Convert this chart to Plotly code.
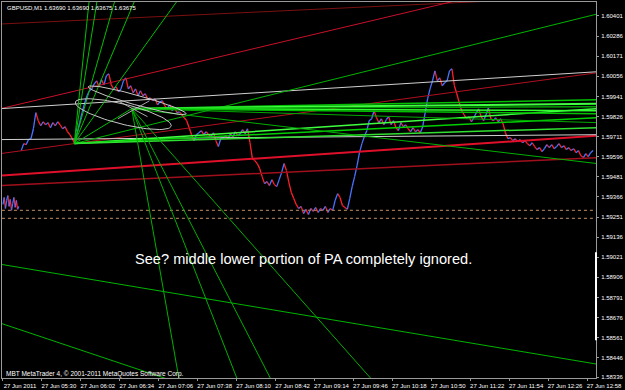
import numpy as np
import plotly.graph_objects as go

# ---------------- data ----------------
# time axis: minutes after 04:58 on 27 Jun 2011 (M1 chart)
TICK_MINUTES = [0, 32, 64, 96, 128, 160, 192, 224, 256, 288, 320, 352, 384, 416, 448, 480]
TICK_LABELS = ["27 Jun 2011", "27 Jun 05:30", "27 Jun 06:02", "27 Jun 06:34", "27 Jun 07:06",
               "27 Jun 07:38", "27 Jun 08:10", "27 Jun 08:42", "27 Jun 09:14", "27 Jun 09:46",
               "27 Jun 10:18", "27 Jun 10:50", "27 Jun 11:22", "27 Jun 11:54", "27 Jun 12:26",
               "27 Jun 12:58"]
PRICE_TICKS = ["1.60401", "1.60286", "1.60171", "1.60056", "1.59941", "1.59826", "1.59711",
               "1.59596", "1.59481", "1.59366", "1.59251", "1.59136", "1.59021", "1.58906",
               "1.58791", "1.58676", "1.58561", "1.58446", "1.58336"]

# first block of bars (minutes 0..13, 1-minute bars)
SEG1_PRICE = [1.59323, 1.59363, 1.59300, 1.59346, 1.59374, 1.59312, 1.59352,
              1.59289, 1.59329, 1.59363, 1.59306, 1.59346, 1.59295, 1.59312]
# main block: closes every 2 minutes from minute 15
SEG2_START, SEG2_STEP = 15, 2
SEG2_PRICE = [
    1.59631, 1.59671, 1.59665, 1.59694, 1.59699, 1.59756, 1.59848,
    1.59802, 1.59773, 1.59796, 1.59779, 1.59791, 1.59762, 1.59791, 1.59773, 1.59796, 1.59779,
    1.59756, 1.59768, 1.59739, 1.59722, 1.59699, 1.59671,
    1.59733, 1.59791, 1.59848, 1.59899, 1.59945, 1.59973, 1.59984, 1.60013, 1.60030, 1.59996,
    1.60036, 1.60007, 1.60059, 1.60070,
    1.60007, 1.59984, 1.59996, 1.59967, 1.59984, 1.60030, 1.60047, 1.59984, 1.60002, 1.59962,
    1.59984, 1.59945, 1.59973, 1.59945, 1.59956,
    1.59922, 1.59933, 1.59916, 1.59927, 1.59893, 1.59910, 1.59916, 1.59887, 1.59870, 1.59893,
    1.59859, 1.59876, 1.59848, 1.59853, 1.59836, 1.59819, 1.59802, 1.59762, 1.59722, 1.59688, 1.59722,
    1.59733, 1.59745, 1.59722, 1.59739, 1.59722, 1.59711, 1.59733, 1.59688, 1.59654, 1.59699,
    1.59705, 1.59716, 1.59699, 1.59728, 1.59711, 1.59739, 1.59716, 1.59728, 1.59751, 1.59728, 1.59756,
    1.59676, 1.59585, 1.59574, 1.59557, 1.59528, 1.59482, 1.59442, 1.59454, 1.59431, 1.59465,
    1.59437, 1.59425, 1.59465, 1.59505, 1.59557, 1.59517, 1.59448, 1.59391, 1.59357, 1.59323, 1.59300,
    1.59312, 1.59271, 1.59295, 1.59266, 1.59300, 1.59283, 1.59306, 1.59277, 1.59300, 1.59289,
    1.59312, 1.59277, 1.59300, 1.59289, 1.59346, 1.59385, 1.59363, 1.59317, 1.59306, 1.59295, 1.59357,
    1.59425, 1.59482, 1.59545, 1.59619, 1.59671, 1.59711, 1.59745, 1.59802, 1.59813, 1.59859,
    1.59819, 1.59791, 1.59813, 1.59779, 1.59808, 1.59825, 1.59779, 1.59802, 1.59762, 1.59745, 1.59791,
    1.59768, 1.59779, 1.59756, 1.59739, 1.59762, 1.59739, 1.59751, 1.59733, 1.59768, 1.59848,
    1.59927, 1.59984, 1.60030, 1.60087, 1.60030, 1.60047, 1.60002, 1.60019, 1.60030, 1.60087, 1.60099,
    1.60002, 1.59956, 1.59905, 1.59859, 1.59836, 1.59813, 1.59825, 1.59796, 1.59819, 1.59848,
    1.59870, 1.59825, 1.59802, 1.59836, 1.59876, 1.59813, 1.59802, 1.59819, 1.59796, 1.59813, 1.59785,
    1.59733, 1.59699, 1.59705, 1.59688, 1.59699, 1.59682, 1.59694, 1.59676, 1.59688, 1.59671,
    1.59659, 1.59676, 1.59654, 1.59637, 1.59648, 1.59625, 1.59642, 1.59665, 1.59648, 1.59665, 1.59642,
    1.59654, 1.59671, 1.59648, 1.59659, 1.59637, 1.59648, 1.59631, 1.59642, 1.59619, 1.59631,
    1.59602, 1.59591, 1.59614, 1.59597, 1.59619, 1.59631,
]

# drawn objects (anchors in minute / price)
A_T, A_P = 58.6, 1.59671
B_T, B_P = 105.8, 1.59871
FAN_A_UP = [(70.8, 1.60487), (77.3, 1.60487), (91.9, 1.60487), (108.2, 1.60487), (143.2, 1.60487)]
FAN_A_RIGHT = [(488.2, 1.60412), (488.2, 1.59871), (488.2, 1.59819), (488.2, 1.59762)]
FAN_B_RIGHT = [(488.2, 1.59922), (488.2, 1.59899), (488.2, 1.59882), (488.2, 1.59859),
               (488.2, 1.59842), (488.2, 1.59791), (488.2, 1.59557)]
FAN_B_DOWN = [(144.8, 1.58319), (192.8, 1.58319), (220.5, 1.58319), (303.5, 1.58319)]
RED_TL = [(-2, 1.60355, 490, 1.60515), (-2, 1.59871, 490, 1.60682), (-2, 1.59614, 488, 1.60076),
          (-2, 1.59488, 488, 1.59716), (-2, 1.59431, 488, 1.59591)]
WHITE_TL = [(-2, 1.59871, 488, 1.60082), (-2, 1.59694, 488, 1.59722)]
GREEN_TL = [(-2, 1.58981, 488, 1.58410), (-2, 1.58644, 144.8, 1.58302)]
CROSS_TL = [(94.4, 1.59916, 118.8, 1.59825), (94.4, 1.59813, 120.4, 1.59916)]
H_LINES = [1.59289, 1.59243]
ELLIPSES = [(59.4, 1.59905, 138.3, 1.59774, 0.00059), (70.0, 1.59996, 150.5, 1.59842, 0.00029)]

NOTE = "See? middle lower portion of PA completely ignored."
NOTE_T, NOTE_P = 247, 1.59009
TITLE = "GBPUSD,M1 1.63690 1.63690 1.63675 1.63675"
COPYRIGHT = "MBT MetaTrader 4, \u00a9 2001-2011 MetaQuotes Software Corp."
AXIS_BAR = (1.59049, 1.58547)

# ---------------- figure ----------------
X_RANGE = [-0.81, 487.4]
Y_RANGE = [1.583305, 1.604809]
BG = "#000000"
FONT = "Liberation Sans, Arial, sans-serif"

fig = go.Figure()

def add_line(xs, ys, color, width=1.0, dash="solid"):
    fig.add_trace(go.Scatter(x=xs, y=ys, mode="lines", hoverinfo="skip", showlegend=False,
                             line=dict(color=color, width=width, dash=dash)))

# price line coloured by direction
def price_segments(times, prices):
    up_x, up_y, dn_x, dn_y = [], [], [], []
    for i in range(len(prices) - 1):
        if prices[i + 1] >= prices[i]:
            up_x += [times[i], times[i + 1], None]; up_y += [prices[i], prices[i + 1], None]
        else:
            dn_x += [times[i], times[i + 1], None]; dn_y += [prices[i], prices[i + 1], None]
    return up_x, up_y, dn_x, dn_y

seg1_t = list(range(len(SEG1_PRICE)))
seg2_t = [SEG2_START + SEG2_STEP * i for i in range(len(SEG2_PRICE))]
ux, uy, dx, dy = [], [], [], []
for t, p in ((seg1_t, SEG1_PRICE), (seg2_t, SEG2_PRICE)):
    a, b, c, d = price_segments(t, p)
    ux += a; uy += b; dx += c; dy += d
add_line(dx, dy, "#ff1f2a", 1.3)
add_line(ux, uy, "#4a72ff", 1.3)

# horizontal dotted lines
for hp in H_LINES:
    add_line([X_RANGE[0] - 5, X_RANGE[1] + 5], [hp, hp], "#9a7450", 1.2, "dot")

# red trend lines
red_styles = [("#7a1010", 1), ("#c8102a", 1), ("#b01020", 1), ("#e0102a", 2), ("#a0101c", 1.5)]
for (t0, p0, t1, p1), (col, w) in zip(RED_TL, red_styles):
    add_line([t0, t1], [p0, p1], col, w)

# white lines
for t0, p0, t1, p1 in WHITE_TL:
    add_line([t0, t1], [p0, p1], "#d0d0d0", 1)

# other green lines
for t0, p0, t1, p1 in GREEN_TL:
    add_line([t0, t1], [p0, p1], "#00b400", 1)

# fan from A
for t1, p1 in FAN_A_UP:
    add_line([A_T, t1], [A_P, p1], "#00c000", 1)
fa_cols = [("#00b400", 1), ("#40ff40", 1.5), ("#00d000", 1.5), ("#30e030", 1.5)]
for (t1, p1), (col, w) in zip(FAN_A_RIGHT, fa_cols):
    add_line([A_T, t1], [A_P, p1], col, w)

# fan from B
fb_cols = [("#00c000", 1.5), ("#40ff40", 2), ("#00a000", 1.5), ("#30ff30", 1.5),
           ("#00c000", 1.5), ("#00a800", 1), ("#00b000", 1)]
for (t1, p1), (col, w) in zip(FAN_B_RIGHT, fb_cols):
    add_line([B_T, t1], [B_P, p1], col, w)
for t1, p1 in FAN_B_DOWN:
    add_line([B_T, t1], [B_P, p1], "#00b000", 1)

# connecting line A -> B
add_line([A_T, B_T], [A_P, B_P], "#00c000", 1)

# small grey cross at B
for t0, p0, t1, p1 in CROSS_TL:
    add_line([t0, t1], [p0, p1], "#a8a8a8", 1)

# ellipses
theta = np.linspace(0, 2 * np.pi, 90)
for t0, p0, t1, p1, dp in ELLIPSES:
    ct, cp = (t0 + t1) / 2, (p0 + p1) / 2
    ht, hp = (t1 - t0) / 2, (p1 - p0) / 2
    ex = ct + np.cos(theta) * ht
    ey = cp + np.cos(theta) * hp + np.sin(theta) * dp
    add_line(ex.tolist(), ey.tolist(), "#c8c8c8", 1)

tick_vals_y = [float(v) for v in PRICE_TICKS]

fig.update_layout(
    width=625, height=390,
    margin=dict(l=1, r=24, t=1, b=12),
    paper_bgcolor=BG, plot_bgcolor=BG,
    showlegend=False,
    xaxis=dict(range=X_RANGE, showgrid=False, zeroline=False,
               showline=True, mirror=True, linecolor="#9a9a9a", linewidth=1,
               tickvals=TICK_MINUTES, ticktext=TICK_LABELS, tickangle=0,
               ticks="outside", ticklen=2, tickcolor="#9a9a9a",
               tickfont=dict(family=FONT, size=6, color="#ffffff"),
               ticklabelshift=17, ticklabelstandoff=0),
    yaxis=dict(range=Y_RANGE, side="right", showgrid=False, zeroline=False,
               showline=True, mirror=True, linecolor="#9a9a9a", linewidth=1,
               tickvals=tick_vals_y, ticktext=PRICE_TICKS,
               ticks="outside", ticklen=2, tickcolor="#9a9a9a",
               tickfont=dict(family=FONT, size=6, color="#ffffff"),
               ticklabelstandoff=1),
)

fig.add_shape(type="line", xref="paper", yref="y", x0=1, x1=1,
              y0=AXIS_BAR[0], y1=AXIS_BAR[1], line=dict(color="#ffffff", width=2))

fig.add_annotation(x=NOTE_T, y=NOTE_P, xref="x", yref="y", text=NOTE, showarrow=False,
                   font=dict(family=FONT, size=14.6, color="#ffffff"))
fig.add_annotation(x=0.005, y=0.985, xref="paper", yref="paper", text=TITLE, showarrow=False,
                   xanchor="left", yanchor="middle",
                   font=dict(family=FONT, size=6, color="#ffffff"))
fig.add_annotation(x=0.003, y=0.01, xref="paper", yref="paper", text=COPYRIGHT, showarrow=False,
                   xanchor="left", yanchor="middle",
                   font=dict(family=FONT, size=6.5, color="#ffffff"))

fig.write_html("out.html")
